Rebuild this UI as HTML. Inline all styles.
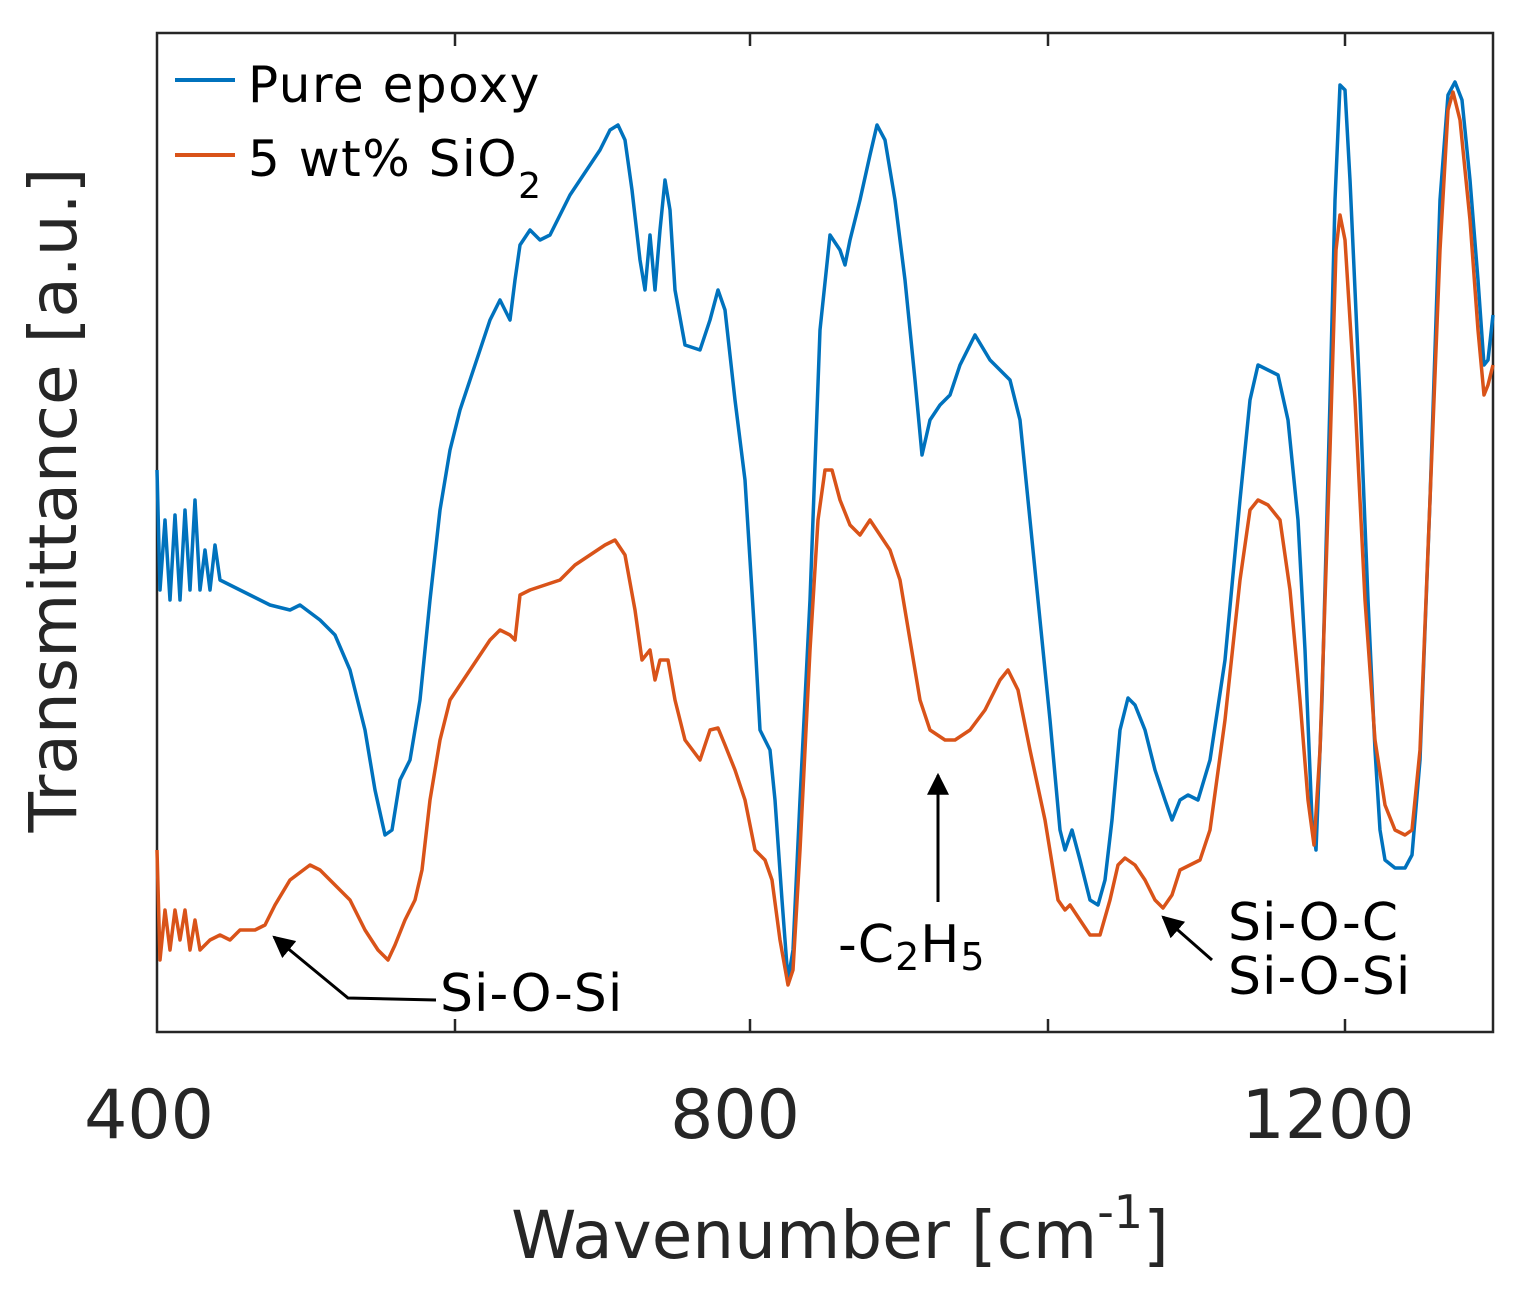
<!DOCTYPE html>
<html><head><meta charset="utf-8"><style>
body{margin:0;background:#fff;}
svg{display:block;font-family:"DejaVu Sans","Liberation Sans",sans-serif;}
</style></head><body>
<svg width="1522" height="1298" viewBox="0 0 1522 1298" xmlns="http://www.w3.org/2000/svg">
<defs>
<marker id="ah2" viewBox="0 0 10 10" markerWidth="22" markerHeight="22" refX="9" refY="5" orient="auto" markerUnits="userSpaceOnUse"><path d="M0,0 L10,5 L0,10 z" fill="#000"/></marker></defs>
<rect x="157" y="33" width="1336" height="999" fill="none" stroke="#262626" stroke-width="2.5"/>
<g stroke="#262626" stroke-width="2.5">
<line x1="455" y1="33" x2="455" y2="46"/><line x1="455" y1="1032" x2="455" y2="1019"/>
<line x1="750" y1="33" x2="750" y2="46"/><line x1="750" y1="1032" x2="750" y2="1019"/>
<line x1="1048" y1="33" x2="1048" y2="46"/><line x1="1048" y1="1032" x2="1048" y2="1019"/>
<line x1="1345" y1="33" x2="1345" y2="46"/><line x1="1345" y1="1032" x2="1345" y2="1019"/>
</g>
<polyline fill="none" stroke="#0072BD" stroke-width="3.5" stroke-linejoin="round" points="157,470 160,590 165,520 170,600 175,515 180,600 185,510 190,590 195,500 200,590 205,550 210,590 215,545 220,580 230,585 250,595 270,605 290,610 300,605 320,620 335,635 350,670 365,730 375,790 385,835 392,830 400,780 410,760 420,700 430,600 440,510 450,450 460,410 470,380 480,350 490,320 500,300 510,320 515,280 520,245 530,230 540,240 550,235 560,215 570,195 580,180 590,165 600,150 610,130 618,125 625,140 632,190 640,260 645,290 650,235 655,290 660,230 665,180 670,210 675,290 685,345 700,350 710,320 718,290 725,310 735,400 745,480 755,640 760,730 765,740 770,750 775,800 782,900 788,980 793,950 800,800 810,600 820,330 830,235 840,250 845,265 850,240 860,200 870,155 877,125 885,140 895,200 905,280 915,380 922,455 930,420 940,405 950,395 960,365 975,335 990,360 1000,370 1010,380 1020,420 1030,520 1040,620 1050,720 1060,830 1065,850 1072,830 1080,860 1090,900 1098,905 1105,880 1112,820 1120,730 1128,698 1135,705 1145,730 1155,770 1165,800 1172,820 1180,800 1188,795 1198,800 1210,760 1225,660 1240,500 1250,400 1258,365 1268,370 1278,375 1288,420 1298,520 1305,650 1312,820 1316,850 1322,700 1330,400 1335,200 1340,85 1345,90 1350,180 1360,400 1368,600 1375,750 1380,830 1385,860 1395,868 1405,868 1412,855 1420,760 1430,500 1440,200 1448,95 1455,82 1462,100 1470,180 1478,280 1484,365 1488,360 1493,315"/>
<polyline fill="none" stroke="#D95319" stroke-width="3.5" stroke-linejoin="round" points="157,850 160,960 165,910 170,950 175,910 180,940 185,910 190,950 195,920 200,950 210,940 220,935 230,940 240,930 255,930 265,925 275,905 290,880 310,865 320,870 335,885 350,900 365,930 378,950 388,960 395,945 405,920 415,900 422,870 430,800 440,740 450,700 460,685 470,670 480,655 490,640 500,630 510,635 515,640 520,595 530,590 545,585 560,580 575,565 590,555 605,545 615,540 625,555 635,610 642,660 650,650 655,680 660,660 668,660 675,700 685,740 700,760 710,730 718,728 725,745 735,770 745,800 755,850 765,860 772,880 780,940 788,985 793,970 800,850 810,650 818,520 825,470 832,470 840,500 850,525 860,535 870,520 880,535 890,550 900,580 910,640 920,700 930,730 945,740 955,740 970,730 985,710 1000,680 1008,670 1018,690 1030,750 1045,820 1058,900 1065,910 1070,905 1080,920 1090,935 1100,935 1110,900 1118,865 1125,858 1135,865 1145,880 1155,900 1163,908 1172,895 1180,870 1190,865 1200,860 1210,830 1225,720 1240,580 1250,510 1258,500 1268,505 1280,520 1290,590 1300,700 1308,800 1314,845 1320,750 1330,450 1336,250 1340,215 1345,240 1355,400 1365,600 1375,740 1385,805 1395,830 1405,835 1412,830 1420,750 1430,500 1440,250 1448,110 1453,92 1460,120 1470,220 1478,330 1484,395 1488,385 1493,365"/>
<line x1="175" y1="80" x2="235" y2="80" stroke="#0072BD" stroke-width="4"/>
<line x1="175" y1="155" x2="235" y2="155" stroke="#D95319" stroke-width="4"/>
<g fill="#000" font-size="50" letter-spacing="1.5">
<text x="248" y="102">Pure epoxy</text>
<text x="248" y="176">5 wt% SiO<tspan font-size="36" dy="22">2</tspan></text>
</g>
<g fill="#000" font-size="52" letter-spacing="1">
<text x="440" y="1011">Si-O-Si</text>
<text x="838" y="962">-C<tspan font-size="38" dy="8">2</tspan><tspan dy="-8">H</tspan><tspan font-size="38" dy="8">5</tspan></text>
<text x="1228" y="940">Si-O-C</text>
<text x="1228" y="994">Si-O-Si</text>
</g>
<g stroke="#000" stroke-width="3" fill="none">
<polyline points="436,1000 348,998 274,937" marker-end="url(#ah2)"/>
<line x1="938" y1="902" x2="938" y2="775" marker-end="url(#ah2)"/>
<line x1="1212" y1="960" x2="1163" y2="917" marker-end="url(#ah2)"/>
</g>
<g fill="#262626" font-size="68" text-anchor="middle">
<text x="149" y="1138">400</text>
<text x="735" y="1138">800</text>
<text x="1328" y="1138">1200</text>
</g>
<g fill="#262626" font-size="66" text-anchor="middle">
<text x="840" y="1258">Wavenumber [cm<tspan font-size="46" dy="-30">-1</tspan><tspan dy="30">]</tspan></text>
<text transform="translate(76,500) rotate(-90)">Transmittance [a.u.]</text>
</g>
</svg>
</body></html>
